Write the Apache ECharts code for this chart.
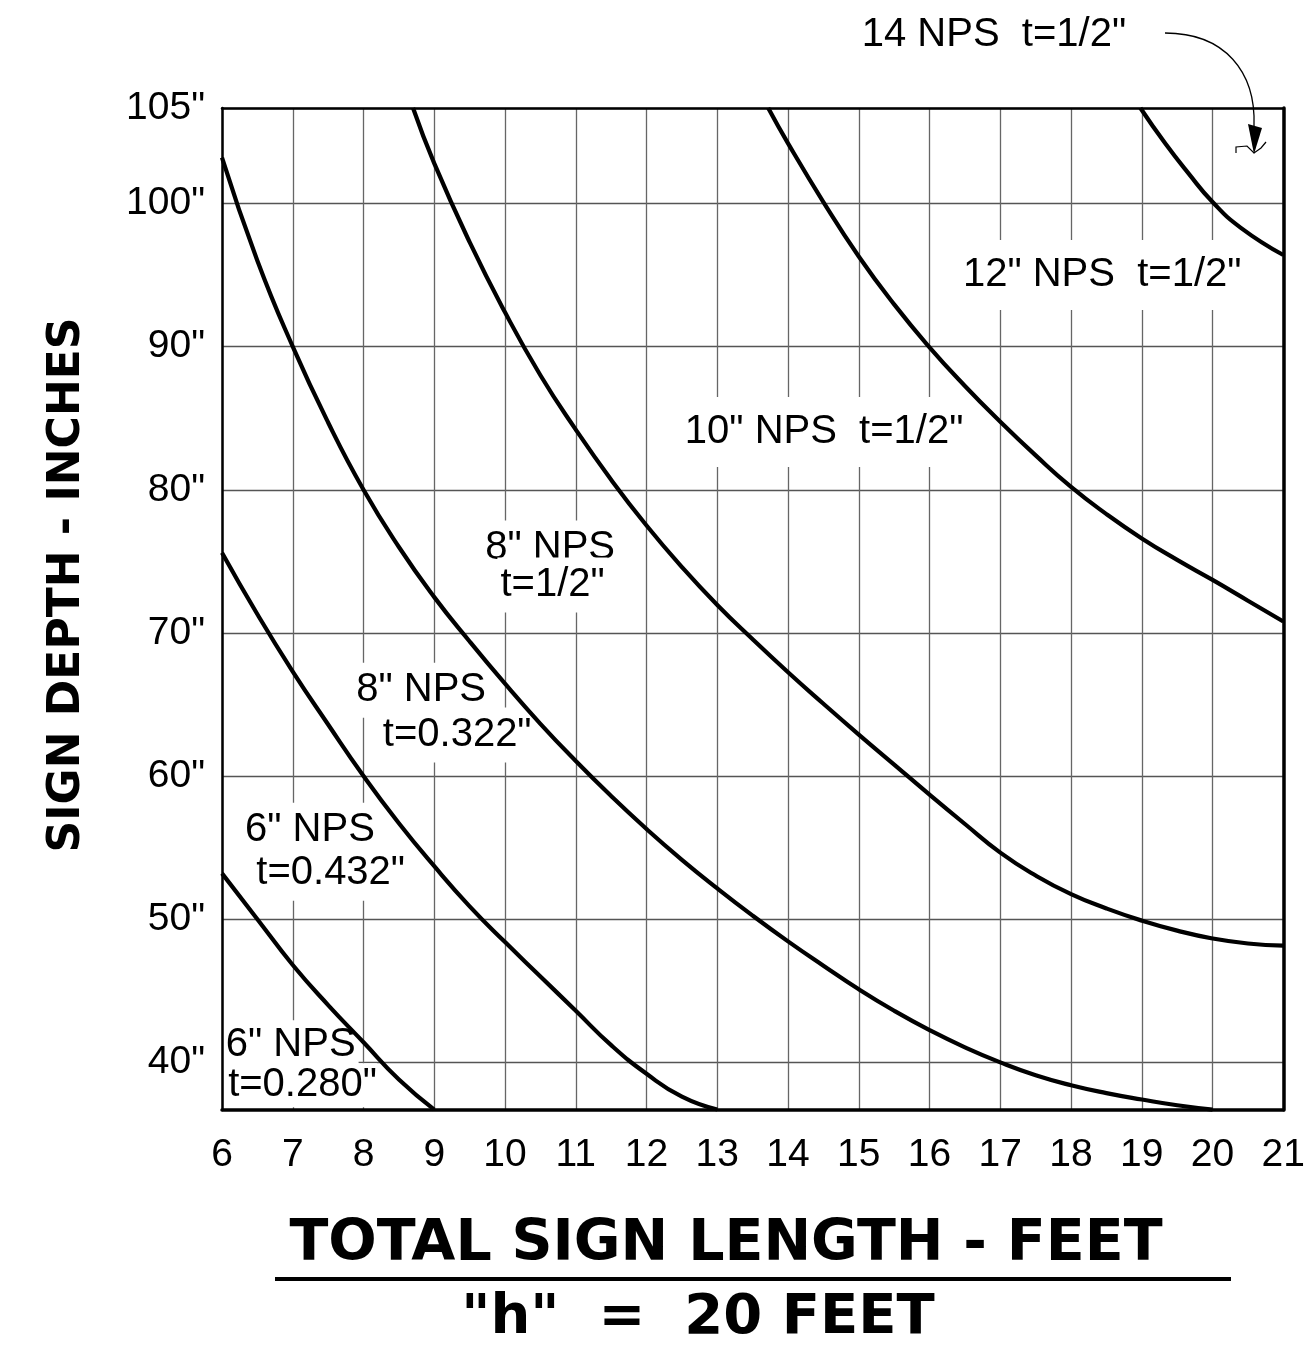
<!DOCTYPE html>
<html>
<head>
<meta charset="utf-8">
<script src="https://cdn.jsdelivr.net/npm/echarts@6/dist/echarts.min.js"></script>
<style>
html,body{margin:0;padding:0;background:#fff;}
#chart{width:1308px;height:1352px;}
</style>
</head>
<body>
<div id="chart"></div>
<script>
// ---- axis ranges & ticks ----
const X_MIN = 6, X_MAX = 21;
const Y_MIN = 36.67, Y_MAX = 106.67;
const xTickValues = [6, 7, 8, 9, 10, 11, 12, 13, 14, 15, 16, 17, 18, 19, 20, 21];
const yTickValues = [40, 50, 60, 70, 80, 90, 100, Y_MAX];
const yTickLabels = ['40"', '50"', '60"', '70"', '80"', '90"', '100"', '105"'];

// ---- curves (x = total sign length ft, y = sign depth in) ----
const pipe6a_x = [6, 6.5, 7, 7.5, 8, 8.5, 9];
const pipe6a_y = [53.2, 50.0, 46.8, 44.0, 41.4, 38.8, 36.7];

const pipe6b_x = [6, 6.5, 7, 7.5, 8, 8.5, 9, 9.5, 10, 10.5, 11, 11.5, 12, 12.5, 13];
const pipe6b_y = [75.6, 71.3, 67.3, 63.6, 60.0, 56.7, 53.7, 50.9, 48.4, 46.0, 43.6, 41.2, 39.2, 37.6, 36.7];

const pipe8a_x = [6, 6.5, 7, 7.5, 8, 8.5, 9, 9.5, 10, 10.5, 11, 11.5, 12, 12.5, 13, 13.5, 14, 14.5, 15, 15.5, 16, 16.5, 17, 17.5, 18, 18.5, 19, 19.5, 20];
const pipe8a_y = [103.2, 96.0, 90.0, 84.7, 80.0, 76.0, 72.5, 69.4, 66.45, 63.65, 61.05, 58.6, 56.3, 54.15, 52.15, 50.25, 48.45, 46.75, 45.1, 43.6, 42.25, 41.05, 40.0, 39.1, 38.4, 37.85, 37.4, 37.0, 36.7];

const pipe8b_x = [8.70, 9, 9.5, 10, 10.5, 11, 11.5, 12, 12.5, 13, 13.5, 14, 14.5, 15, 15.5, 16, 16.5, 17, 17.5, 18, 18.5, 19, 19.5, 20, 20.5, 21];
const pipe8b_y = [106.67, 102.8, 97.3, 92.4, 88.0, 84.2, 80.7, 77.5, 74.6, 71.95, 69.55, 67.25, 65.05, 62.9, 60.8, 58.7, 56.65, 54.65, 53.05, 51.75, 50.75, 49.9, 49.2, 48.65, 48.3, 48.15];

const pipe10_x = [13.72, 14, 14.5, 15, 15.5, 16, 16.5, 17, 17.5, 18, 18.5, 19, 19.5, 20, 20.5, 21];
const pipe10_y = [106.67, 104.2, 100.1, 96.3, 92.95, 89.95, 87.25, 84.75, 82.4, 80.2, 78.3, 76.6, 75.1, 73.7, 72.25, 70.8];

const pipe12_x = [18.98, 19.33, 19.66, 20, 20.4, 21];
const pipe12_y = [106.67, 104.2, 102.1, 100.1, 98.3, 96.4];

const curveNames = ['6" NPS t=0.280"', '6" NPS t=0.432"', '8" NPS t=0.322"', '8" NPS t=1/2"', '10" NPS t=1/2"', '12" NPS t=1/2"'];

// ---- annotation texts ----
const noteTexts = ['14 NPS  t=1/2"', '12" NPS  t=1/2"', '10" NPS  t=1/2"', '8" NPS', 't=1/2"', '8" NPS', 't=0.322"', '6" NPS', 't=0.432"', '6" NPS', 't=0.280"'];

const FONT = '"Liberation Sans", Arial, "DejaVu Sans", sans-serif';
const BOLD = '"DejaVu Sans", "Liberation Sans", Arial, sans-serif';

function zip(xs, ys) { return xs.map((x, i) => [x, ys[i]]); }
const curves = [
  zip(pipe6a_x, pipe6a_y), zip(pipe6b_x, pipe6b_y), zip(pipe8a_x, pipe8a_y),
  zip(pipe8b_x, pipe8b_y), zip(pipe10_x, pipe10_y), zip(pipe12_x, pipe12_y)
];

// annotation anchors (data coordinates, centre of each text) and box padding
const noteAnchors = [
  [16.91, 111.78], [18.44, 95.0], [14.51, 84.03],
  [10.637, 75.93], [10.672, 73.34],
  [8.814, 66.0], [9.324, 62.86],
  [7.243, 56.22], [7.536, 53.21],
  [6.971, 41.19], [7.138, 38.40]
];
const notePads = [
  [6, 3], [15, 3], [15, 3],
  [15, 3, 0, 3], [0, 3, 15, 3],
  [15, 3, 0, 3], [0, 3, 15, 3],
  [15, 3, 0, 3], [0, 3, 15, 3],
  [10, 3, 0, 3], [0, 0, 4, 0]
];

const chart = echarts.init(document.getElementById('chart'), null, { renderer: 'canvas' });

const lineSeries = curves.map((d, i) => ({
  name: curveNames[i],
  type: 'line',
  data: d,
  xAxisIndex: 0, yAxisIndex: 0,
  showSymbol: false,
  symbol: 'none',
  smooth: 0.5,
  clip: true,
  z: 4,
  lineStyle: { color: '#000', width: 4.2 },
  silent: true
}));

const noteSeries = {
  type: 'scatter',
  xAxisIndex: 0, yAxisIndex: 0,
  symbolSize: 0,
  clip: false,
  z: 3,
  silent: true,
  itemStyle: { opacity: 1 },
  data: noteTexts.map((t, i) => ({
    name: t, value: noteAnchors[i],
    label: { padding: notePads[i] }
  })),
  label: {
    show: true,
    position: 'inside',
    formatter: '{b}',
    color: '#000',
    opacity: 1,
    fontSize: 40,
    fontFamily: FONT,
    backgroundColor: '#fff'
  }
};

const option = {
  backgroundColor: '#fff',
  animation: false,
  grid: { left: 222, top: 108, width: 1074, height: 1002, show: false, containLabel: false },
  xAxis: [
    {
      type: 'value', min: X_MIN, max: X_MAX, interval: 1, position: 'bottom', z: 0,
      axisLine: { show: false }, axisTick: { show: false },
      axisLabel: { show: true, margin: 26, fontSize: 39, fontFamily: FONT, color: '#000',
        showMinLabel: true, showMaxLabel: true, formatter: v => String(v) },
      splitLine: { show: true, lineStyle: { color: '#666', width: 1.3 } }
    },
    {
      type: 'value', min: X_MIN, max: X_MAX, position: 'top', z: 6,
      axisLine: { show: true, lineStyle: { color: '#000', width: 2.5 } },
      axisTick: { show: false }, axisLabel: { show: false }, splitLine: { show: false }
    },
    {
      type: 'value', min: X_MIN, max: X_MAX, position: 'bottom', offset: 0, z: 6,
      axisLine: { show: true, onZero: false, lineStyle: { color: '#000', width: 3.5 } },
      axisTick: { show: false }, axisLabel: { show: false }, splitLine: { show: false }
    }
  ],
  yAxis: [
    {
      type: 'value', min: Y_MIN, max: Y_MAX, position: 'left', z: 0,
      axisLine: { show: false },
      axisTick: { show: false, customValues: yTickValues },
      axisLabel: {
        show: true, margin: 17, fontSize: 39, fontFamily: FONT, color: '#000',
        customValues: yTickValues,
        formatter: (v) => {
          let k = -1;
          yTickValues.forEach((t, i) => { if (Math.abs(t - v) < 1e-6) k = i; });
          return k >= 0 ? yTickLabels[k] : '';
        }
      },
      splitLine: { show: true, lineStyle: { color: '#555', width: 1.3 } }
    },
    {
      type: 'value', min: Y_MIN, max: Y_MAX, position: 'right', z: 6,
      axisLine: { show: true, onZero: false, lineStyle: { color: '#000', width: 3.5 } },
      axisTick: { show: false }, axisLabel: { show: false }, splitLine: { show: false }
    },
    {
      type: 'value', min: Y_MIN, max: Y_MAX, position: 'left', offset: 0, z: 6,
      axisLine: { show: true, onZero: false, lineStyle: { color: '#000', width: 2.5 } },
      axisTick: { show: false }, axisLabel: { show: false }, splitLine: { show: false }
    }
  ],
  series: lineSeries.concat([noteSeries]),
  graphic: [
    {
      type: 'text', x: 726, y: 1245, z: 10,
      style: { text: 'TOTAL SIGN LENGTH - FEET', font: 'bold 57px ' + BOLD, fill: '#000',
        align: 'center', verticalAlign: 'middle' }
    },
    {
      type: 'line', z: 10,
      shape: { x1: 275, y1: 1279, x2: 1231, y2: 1279 },
      style: { stroke: '#000', lineWidth: 4 }
    },
    {
      type: 'text', x: 698, y: 1318, z: 10,
      style: { text: '"h"  =  20 FEET', font: 'bold 56px ' + BOLD, fill: '#000',
        align: 'center', verticalAlign: 'middle' }
    },
    {
      type: 'text', x: 68, y: 585, rotation: Math.PI / 2, z: 10,
      style: { text: 'SIGN DEPTH - INCHES', font: 'bold 44px ' + BOLD, fill: '#000',
        align: 'center', verticalAlign: 'middle' }
    },
    {
      type: 'bezierCurve', z: 10,
      shape: { x1: 1165, y1: 33, cpx1: 1225, cpy1: 33, cpx2: 1256, cpy2: 72, x2: 1254, y2: 126 },
      style: { stroke: '#000', lineWidth: 1.3, fill: null }
    },
    {
      type: 'polygon', z: 10,
      shape: { points: [[1248, 124], [1262, 128], [1254, 154]] },
      style: { fill: '#000' }
    },
    {
      type: 'polyline', z: 10,
      shape: { points: [[1236, 153], [1236, 147], [1247, 146], [1254, 153], [1261, 148], [1266, 142]] },
      style: { stroke: '#000', lineWidth: 1.2, fill: null }
    }
  ]
};

chart.setOption(option);
</script>
</body>
</html>
